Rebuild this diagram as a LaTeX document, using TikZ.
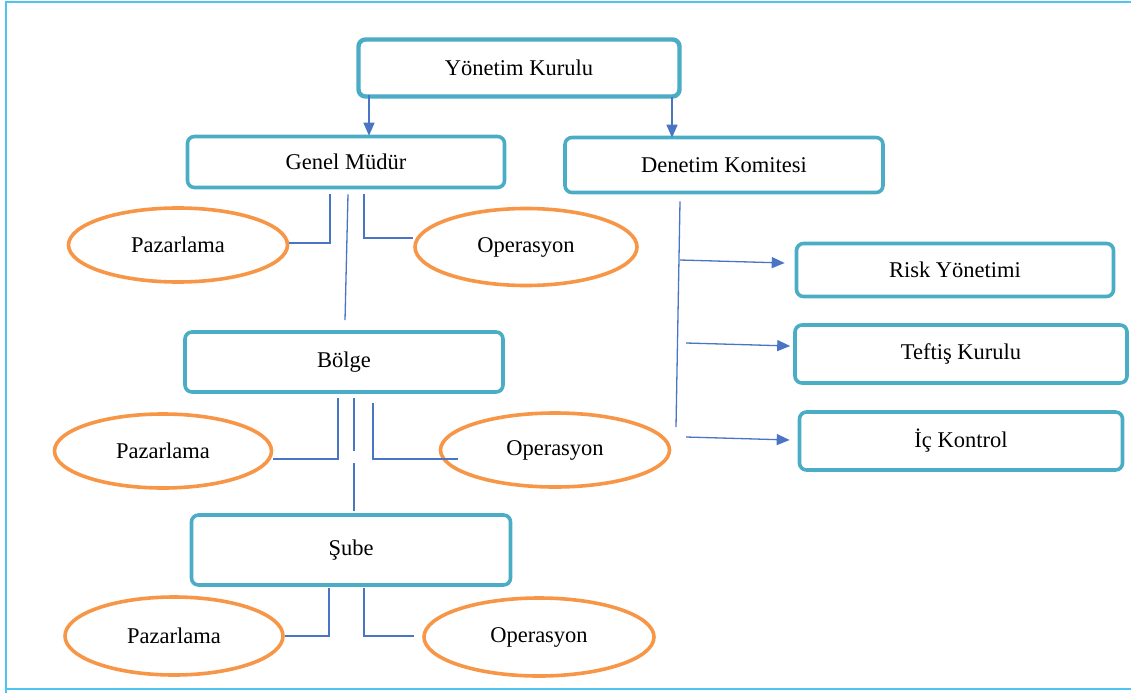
\documentclass[tikz,border=0pt]{standalone}
\usepackage{fontspec}
\setmainfont{Liberation Serif}
\usetikzlibrary{arrows.meta,calc,shapes.geometric}
\definecolor{boxc}{HTML}{4BACC6}
\definecolor{linec}{HTML}{4A74C4}
\definecolor{ellc}{HTML}{F79646}
\definecolor{framec}{HTML}{4EC4F0}
\tikzset{
  orgbox/.style={draw=boxc,line width=3.6pt,rounded corners=7pt,fill=white,font=\fontsize{22.5}{27}\selectfont,inner sep=0pt},
  unitell/.style={ellipse,draw=ellc,line width=3.6pt,fill=white,font=\fontsize{22.5}{27}\selectfont,inner sep=0pt},
  conn/.style={draw=linec,line width=1.3pt},
  arr/.style={draw=linec,line width=1.3pt,-{Triangle[length=13pt,width=11pt]},fill=linec},
}
\begin{document}
\begin{tikzpicture}[x=1pt,y=-1pt]
\useasboundingbox (0,0) rectangle (1131,693);
% frame
\draw[framec,line width=2pt] (6,693) -- (6,2) -- (1131,2);
\draw[framec,line width=2pt] (6,689) -- (1131,689);
% boxes
\node[orgbox,line width=4.4pt,minimum width=321pt,minimum height=57pt] (yk) at (519,68) {Yönetim Kurulu};
\node[orgbox,minimum width=317pt,minimum height=51pt] (gm) at (346,162) {Genel Müdür};
\node[orgbox,minimum width=318pt,minimum height=55pt] (dk) at (724,165) {Denetim Komitesi};
\node[orgbox,minimum width=318pt,minimum height=60pt] (bo) at (344,362) {Bölge};
\node[orgbox,minimum width=319pt,minimum height=70pt] (su) at (351,550) {Şube};
\node[orgbox,minimum width=317pt,minimum height=53pt] (rk) at (955,270) {Risk Yönetimi};
\node[orgbox,minimum width=332pt,minimum height=58pt] (tk) at (961,354) {Teftiş Kurulu};
\node[orgbox,minimum width=323pt,minimum height=58pt] (ik) at (961,441) {İç Kontrol};
% ellipses
\node[unitell,minimum width=219pt,minimum height=74pt] (p1) at (178,245) {Pazarlama};
\node[unitell,minimum width=222pt,minimum height=77pt] (o1) at (526,247) {Operasyon};
\node[unitell,minimum width=217pt,minimum height=74pt] (p2) at (163,451) {Pazarlama};
\node[unitell,minimum width=229pt,minimum height=74pt] (o2) at (555,450) {Operasyon};
\node[unitell,minimum width=218pt,minimum height=78pt] (p3) at (174,636) {Pazarlama};
\node[unitell,minimum width=230pt,minimum height=78pt] (o3) at (539,637) {Operasyon};
% top arrows
\draw[arr] ([xshift=-150pt,yshift=4pt]yk.south) -- ([xshift=23pt,yshift=-1pt]gm.north);
\draw[arr] ([xshift=153pt,yshift=2pt]yk.south) -- ([xshift=-52pt,yshift=-2pt]dk.north);
% Genel Mudur connectors
\draw[conn] ($(gm.south)+(-16,5)$) |- ([yshift=2pt]p1.east);
\draw[conn] ($(gm.south)+(18,5)$) |- ([yshift=9pt]o1.west);
\draw[conn] ($(gm.south)+(2,5)$) -- ($(bo.north)+(1,-10)$);
% Bolge connectors
\coordinate (g1) at (354,451);
\coordinate (g2) at (354,463);
\draw[conn] ($(bo.south)+(-6,4)$) |- ([yshift=-8pt]p2.east);
\draw[conn] ($(bo.south)+(10,4)$) -- (g1);
\draw[conn] (g2) -- ($(su.north)+(3,-2)$);
\draw[conn] ($(bo.south)+(29,9)$) |- ([xshift=19pt,yshift=-9pt]o2.west);
% Sube connectors
\draw[conn] ($(su.south)+(-22,1)$) |- (p3.east);
\draw[conn] ($(su.south)+(13,1)$) |- ([xshift=-8pt,yshift=1pt]o3.west);
% Denetim connectors
\coordinate (dend) at (676,427);
\draw[conn] ($(dk.south)+(-44,7)$) -- (dend);
\coordinate (a1) at (680,260);
\coordinate (a2) at (686,343);
\coordinate (a3) at (686,437);
\draw[arr] (a1) -- ([xshift=-10pt,yshift=7pt]rk.west);
\draw[arr] (a2) -- ([xshift=-3pt,yshift=8pt]tk.west);
\draw[arr] (a3) -- ([xshift=-8pt,yshift=1pt]ik.west);
\end{tikzpicture}
\end{document}
